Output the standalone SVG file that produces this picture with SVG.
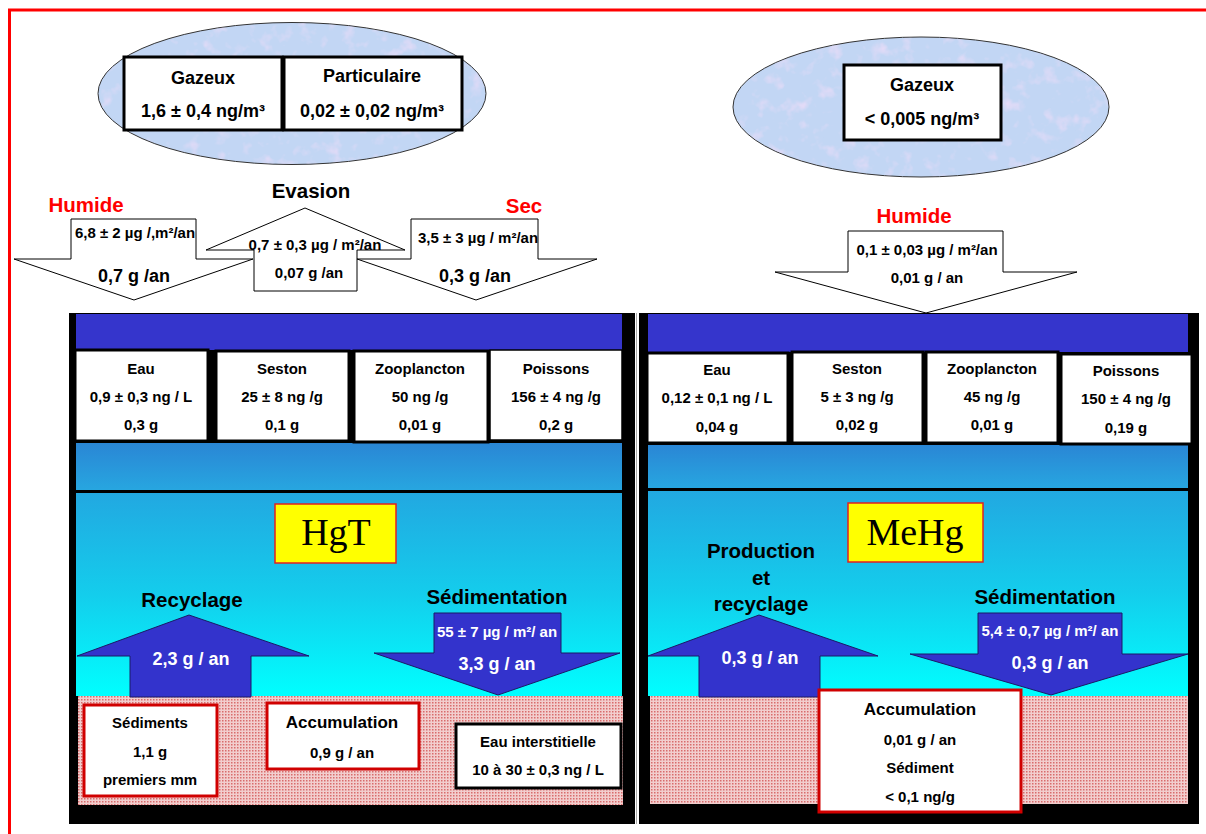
<svg xmlns="http://www.w3.org/2000/svg" width="1206" height="834" viewBox="0 0 1206 834">
<defs>
<style>
text{font-family:"Liberation Sans",Arial,sans-serif;font-weight:bold;text-anchor:middle;fill:#000}
.red{fill:#FF0000}
.w{fill:#FFFFFF}
.f15{font-size:15px}
.f18{font-size:18px}
.f20{font-size:20.5px}
.f17{font-size:17px}
.serif{font-family:"Liberation Serif","Times New Roman",serif;font-weight:normal;font-size:38px}
.box{fill:#FFFFFF;stroke:#000;stroke-width:3}
.rbox{fill:#FFFFFF;stroke:#D00000;stroke-width:3}
.tag{fill:#FFFF00;stroke:#E02020;stroke-width:1.5}
.cloud{fill:#C2D6F4;stroke:#333;stroke-width:1}
.spots{fill:#000;filter:url(#tex)}
.warrow{fill:#FFFFFF;stroke:#000;stroke-width:1}
.barrow{fill:#3333CC;stroke:#1a1a66;stroke-width:1}
</style>
<filter id="tex" x="0" y="0" width="100%" height="100%">
<feTurbulence type="fractalNoise" baseFrequency="0.07" numOctaves="3" seed="7" result="n"/>
<feColorMatrix in="n" type="matrix" values="0 0 0 0 0.86  0 0 0 0 0.72  0 0 0 0 0.94  1.4 -1.2 0 0 -0.15" result="c"/>
<feComposite in="c" in2="SourceGraphic" operator="in"/>
</filter>
<linearGradient id="mid" x1="0" y1="0" x2="0" y2="1">
<stop offset="0" stop-color="#2A86D5"/>
<stop offset="1" stop-color="#27A6E0"/>
</linearGradient>
<linearGradient id="low" x1="0" y1="0" x2="0" y2="1">
<stop offset="0" stop-color="#22A8E1"/>
<stop offset="0.5" stop-color="#14CDEC"/>
<stop offset="1" stop-color="#00FFFF"/>
</linearGradient>
<pattern id="sed" width="3" height="3" patternUnits="userSpaceOnUse">
<rect width="3" height="3" fill="#F2CECE"/>
<rect width="1.5" height="1.5" fill="#D86C6C"/>
</pattern>
</defs>

<rect width="1206" height="834" fill="#FFFFFF"/>
<g id="frame">
<line x1="8" y1="10" x2="1206" y2="10" stroke="#FF0000" stroke-width="3"/>
<line x1="9.5" y1="9" x2="9.5" y2="834" stroke="#FF0000" stroke-width="3"/>
</g>

<!-- Lakes backgrounds -->
<g id="lake-hgt">
<rect x="69" y="313" width="566" height="511" fill="#000"/>
<rect x="76" y="314" width="546" height="36" fill="#3535CC"/>
<rect x="76" y="350" width="546" height="93" fill="#000"/>
<rect x="76" y="443" width="546" height="47" fill="url(#mid)"/>
<rect x="76" y="490" width="546" height="3" fill="#000"/>
<rect x="76" y="493" width="546" height="203" fill="url(#low)"/>
<rect x="78" y="696" width="545" height="109" fill="url(#sed)"/>
</g>
<line x1="636.5" y1="313" x2="636.5" y2="824" stroke="#AAAAAA" stroke-width="1"/>
<g id="lake-mehg">
<rect x="639" y="313" width="560" height="511" fill="#000"/>
<rect x="648" y="314" width="540" height="38" fill="#3535CC"/>
<rect x="648" y="352" width="540" height="93" fill="#000"/>
<rect x="648" y="445" width="540" height="43" fill="url(#mid)"/>
<rect x="648" y="488" width="540" height="3" fill="#000"/>
<rect x="648" y="491" width="540" height="205" fill="url(#low)"/>
<rect x="650" y="696" width="538" height="108" fill="url(#sed)"/>
</g>

<!-- Atmosphere -->
<g id="atm-hgt">
<ellipse cx="292" cy="93.5" rx="194" ry="71" class="cloud"/>
<ellipse cx="292" cy="93.5" rx="193.5" ry="70.5" class="spots"/>
<g id="atm-hgt-gaz">
<rect x="124" y="57" width="158" height="73" class="box"/>
<text x="203" y="84" class="f18">Gazeux</text>
<text x="203" y="117" class="f18">1,6 ± 0,4 ng/m³</text>
</g>
<g id="atm-hgt-part">
<rect x="284" y="57" width="178" height="73" class="box"/>
<text x="372" y="82" class="f18">Particulaire</text>
<text x="372" y="117" class="f18">0,02 ± 0,02 ng/m³</text>
</g>
</g>
<g id="atm-mehg">
<ellipse cx="921" cy="107" rx="188" ry="70" class="cloud"/>
<ellipse cx="921" cy="107" rx="187.5" ry="69.5" class="spots"/>
<rect x="844" y="65" width="157" height="75" class="box"/>
<text x="922" y="91" class="f18">Gazeux</text>
<text x="922" y="125" class="f18">&lt; 0,005 ng/m³</text>
</g>

<!-- Connectors -->
<g id="connectors">
<g id="flux-humide-hgt">
<polygon points="71,219 196,219 196,259 253,259 134,300 14,259 71,259" class="warrow"/>
<text x="135" y="238" class="f15">6,8 ± 2 µg /,m²/an</text>
<text x="134" y="282" class="f18">0,7 g /an</text>
</g>
<g id="flux-sec-hgt">
<polygon points="411,219 538,219 538,259 597,259 476,300 357,259 411,259" class="warrow"/>
<text x="478" y="243" class="f15">3,5 ± 3 µg / m²/an</text>
<text x="475" y="282" class="f18">0,3 g /an</text>
</g>
<g id="flux-evasion">
<polygon points="305,208 405,250 357,250 357,291 254,291 254,250 206,250" class="warrow"/>
<text x="315" y="250" class="f15">0,7 ± 0,3 µg / m²/an</text>
<text x="309" y="278" class="f15">0,07 g /an</text>
</g>
<g id="flux-humide-mehg">
<polygon points="848,231 1003,231 1003,272 1077,272 926,313 775,272 848,272" class="warrow"/>
<text x="927" y="255" class="f15">0,1 ± 0,03 µg / m²/an</text>
<text x="927" y="283" class="f15">0,01 g / an</text>
</g>
<g id="flux-recyclage-hgt">
<polygon points="189,615 309,656 251,656 251,697 130,697 130,656 77,656" class="barrow"/>
<text x="191" y="665" class="f18 w">2,3 g / an</text>
</g>
<g id="flux-sedim-hgt">
<polygon points="434,613 561,613 561,653 620,653 498,695 374,653 434,653" class="barrow"/>
<text x="497" y="637" class="f15 w">55 ± 7 µg / m²/ an</text>
<text x="497" y="670" class="f18 w">3,3 g / an</text>
</g>
<g id="flux-prod-mehg">
<polygon points="759,615 878,656 820,656 820,697 699,697 699,656 648,656" class="barrow"/>
<text x="760" y="664" class="f18 w">0,3 g / an</text>
</g>
<g id="flux-sedim-mehg">
<polygon points="978,613 1122,613 1122,654 1188,654 1051,695 910,654 978,654" class="barrow"/>
<text x="1050" y="636" class="f15 w">5,4 ± 0,7 µg / m²/ an</text>
<text x="1050" y="669" class="f18 w">0,3 g / an</text>
</g>
</g>

<!-- Labels -->
<g id="labels">
<text x="86" y="212" class="f20 red">Humide</text>
<text x="311" y="198" class="f20">Evasion</text>
<text x="524" y="213" class="f20 red">Sec</text>
<text x="914" y="223" class="f20 red">Humide</text>
<text x="192" y="607" class="f20">Recyclage</text>
<text x="497" y="604" class="f20">Sédimentation</text>
<text x="761" y="558" class="f20">Production</text>
<text x="761" y="585" class="f20">et</text>
<text x="761" y="611" class="f20">recyclage</text>
<text x="1045" y="604" class="f20">Sédimentation</text>
</g>

<!-- HgT compartments -->
<g id="hgt-eau">
<rect x="75" y="350" width="133" height="91" class="box"/>
<text x="141" y="374" class="f15">Eau</text>
<text x="141" y="402" class="f15">0,9 ± 0,3 ng / L</text>
<text x="141" y="430" class="f15">0,3 g</text>
</g>
<g id="hgt-seston">
<rect x="216" y="351" width="133" height="90" class="box"/>
<text x="282" y="374" class="f15">Seston</text>
<text x="282" y="402" class="f15">25 ± 8 ng /g</text>
<text x="282" y="430" class="f15">0,1 g</text>
</g>
<g id="hgt-zoo">
<rect x="354" y="351" width="134" height="91" class="box"/>
<text x="420" y="374" class="f15">Zooplancton</text>
<text x="420" y="402" class="f15">50 ng /g</text>
<text x="420" y="430" class="f15">0,01 g</text>
</g>
<g id="hgt-poissons">
<rect x="490" y="350" width="132" height="90" fill="#FFFFFF" stroke="#000" stroke-width="1.5"/>
<text x="556" y="374" class="f15">Poissons</text>
<text x="556" y="402" class="f15">156 ±  4 ng /g</text>
<text x="556" y="430" class="f15">0,2 g</text>
</g>
<g id="hgt-tag">
<rect x="275" y="504" width="121" height="59" class="tag"/>
<text x="336" y="545" class="serif">HgT</text>
</g>
<g id="hgt-sediments">
<rect x="84" y="705" width="133" height="91" class="rbox"/>
<text x="150" y="728" class="f15">Sédiments</text>
<text x="150" y="757" class="f15">1,1 g</text>
<text x="150" y="785" class="f15">premiers mm</text>
</g>
<g id="hgt-accumulation">
<rect x="267" y="703" width="152" height="66" class="rbox"/>
<text x="342" y="728" class="f17">Accumulation</text>
<text x="342" y="758" class="f15">0,9 g / an</text>
</g>
<g id="hgt-interstitielle">
<rect x="456" y="724" width="165" height="64" class="box"/>
<text x="538" y="747" class="f15">Eau interstitielle</text>
<text x="538" y="775" class="f15">10 à 30 ± 0,3 ng / L</text>
</g>

<!-- MeHg compartments -->
<g id="mehg-eau">
<rect x="647" y="353" width="141" height="90" class="box"/>
<text x="717" y="375" class="f15">Eau</text>
<text x="717" y="403" class="f15">0,12 ± 0,1 ng / L</text>
<text x="717" y="432" class="f15">0,04 g</text>
</g>
<g id="mehg-seston">
<rect x="792" y="352" width="131" height="91" class="box"/>
<text x="857" y="374" class="f15">Seston</text>
<text x="857" y="402" class="f15">5 ± 3 ng /g</text>
<text x="857" y="430" class="f15">0,02 g</text>
</g>
<g id="mehg-zoo">
<rect x="926" y="352" width="132" height="91" class="box"/>
<text x="992" y="374" class="f15">Zooplancton</text>
<text x="992" y="402" class="f15">45 ng /g</text>
<text x="992" y="430" class="f15">0,01 g</text>
</g>
<g id="mehg-poissons">
<rect x="1061" y="354" width="131" height="90" class="box"/>
<text x="1126" y="376" class="f15">Poissons</text>
<text x="1126" y="404" class="f15">150 ±  4 ng /g</text>
<text x="1126" y="433" class="f15">0,19 g</text>
</g>
<g id="mehg-tag">
<rect x="848" y="503" width="135" height="59" class="tag"/>
<text x="915" y="545" class="serif">MeHg</text>
</g>
<g id="mehg-accumulation">
<rect x="819" y="690" width="202" height="122" class="rbox"/>
<text x="920" y="715" class="f17">Accumulation</text>
<text x="920" y="745" class="f15">0,01 g / an</text>
<text x="920" y="773" class="f15">Sédiment</text>
<text x="920" y="802" class="f15">&lt; 0,1 ng/g</text>
</g>
</svg>
